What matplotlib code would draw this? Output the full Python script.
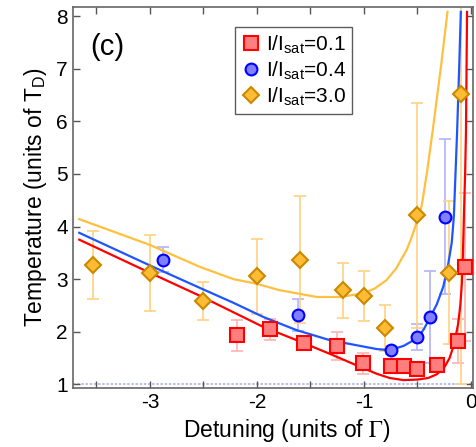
import matplotlib
matplotlib.use("Agg")
import matplotlib.pyplot as plt
from matplotlib.ticker import MultipleLocator

plt.rcParams['font.family'] = ['Liberation Sans', 'DejaVu Sans']
plt.rcParams['mathtext.fontset'] = 'custom'
plt.rcParams['mathtext.rm'] = 'Liberation Sans'
plt.rcParams['mathtext.it'] = 'Liberation Sans'

# measured points: detuning (units of Gamma), temperature (units of T_D)
red_x = [-2.19, -1.88, -1.56, -1.25, -1.01, -0.75, -0.63, -0.50, -0.32, -0.12, -0.055]
red_y = [1.93, 2.05, 1.78, 1.73, 1.40, 1.34, 1.34, 1.29, 1.36, 1.82, 3.23]
red_err = [0.30, 0.20, 0.08, 0.27, 0.20, 0.10, 0.05, 0.05, 0.05, 0.42, 1.40]

blue_x = [-2.88, -1.62, -0.75, -0.50, -0.38, -0.24]
blue_y = [3.37, 2.32, 1.65, 1.90, 2.28, 4.19]
blue_err = [0.24, 0.30, 0.08, 0.24, 0.88, 1.48]

orange_x = [-3.53, -3.0, -2.5, -2.0, -1.6, -1.2, -1.0, -0.8, -0.5, -0.21, -0.09]
orange_y = [3.27, 3.11, 2.58, 3.05, 3.37, 2.79, 2.68, 2.07, 4.21, 3.12, 6.51]
orange_err = [0.64, 0.72, 0.36, 0.72, 1.21, 0.52, 0.47, 0.44, 2.13, 1.36, 5.5]

# theory curves
red_fit_x = [-3.66, -3.0, -2.53, -2.22, -1.94, -1.63, -1.32, -1.01, -0.88, -0.76,
             -0.63, -0.50, -0.40, -0.32, -0.25, -0.20, -0.16, -0.12, -0.10, -0.085,
             -0.075, -0.065, -0.055, -0.047, -0.037]
red_fit_y = [3.75, 3.12, 2.68, 2.37, 2.09, 1.84, 1.58, 1.31, 1.20, 1.12,
             1.08, 1.09, 1.12, 1.19, 1.32, 1.50, 1.75, 2.15, 2.50, 2.93,
             3.50, 4.30, 5.00, 5.79, 8.08]

blue_fit_x = [-3.66, -3.0, -2.53, -2.22, -1.94, -1.63, -1.32, -1.01, -0.88, -0.76,
              -0.63, -0.50, -0.44, -0.38, -0.32, -0.26, -0.22, -0.18, -0.16, -0.13,
              -0.11, -0.095]
blue_fit_y = [3.88, 3.26, 2.83, 2.55, 2.28, 2.03, 1.84, 1.72, 1.67, 1.65,
              1.73, 1.88, 2.05, 2.28, 2.52, 2.85, 3.20, 3.69, 4.20, 5.79,
              7.05, 8.08]

orange_fit_x = [-3.66, -3.0, -2.53, -2.22, -2.0, -1.79, -1.44, -1.22, -1.01, -0.90,
                -0.79, -0.70, -0.60, -0.55, -0.50, -0.46, -0.41, -0.36, -0.28, -0.22]
orange_fit_y = [4.14, 3.65, 3.23, 3.00, 2.91, 2.79, 2.66, 2.66, 2.73, 2.82,
                2.98, 3.20, 3.56, 3.82, 4.13, 4.40, 5.05, 5.79, 7.05, 8.08]

labels = ['I/I$_{\\mathrm{sat}}$=0.1', 'I/I$_{\\mathrm{sat}}$=0.4', 'I/I$_{\\mathrm{sat}}$=3.0']

fig = plt.figure(figsize=(4.76, 4.47), dpi=100)
ax = fig.add_axes([0.153, 0.132, 0.841, 0.852])

# reference line at T = T_D
ax.axhline(1.0, color='#aab4e8', linestyle=(0, (1.5, 1.0)), linewidth=1.2, zorder=1)

series = [
    (red_x, red_y, red_err, red_fit_x, red_fit_y, 's', 9.5, '#ff7f7f', '#ff0000', '#ffb3b3', '#ff0000'),
    (blue_x, blue_y, blue_err, blue_fit_x, blue_fit_y, 'o', 8.5, '#7f7fff', '#0000ff', '#b3b3ff', '#1f55ff'),
    (orange_x, orange_y, orange_err, orange_fit_x, orange_fit_y, 'D', 8.5, '#ffbb33', '#c88a00', '#ffd27f', '#ffbf3f'),
]

handles = []
for (x, y, e, fx, fy, m, ms, fc, ec, errc, linec), lab in zip(series, labels):
    ax.errorbar(x, y, yerr=e, fmt='none', ecolor=errc, elinewidth=1.2,
                capsize=4, capthick=1.2, zorder=2)
    ax.plot(fx, fy, color=linec, linewidth=1.6, zorder=3)
    # trailing quad leaves the empty space the original legend box has on the right
    h, = ax.plot(x, y, m, markersize=ms, markerfacecolor=fc, markeredgecolor=ec,
                 markeredgewidth=1.5, linestyle='none', zorder=4, label=lab + '$\\quad$')
    handles.append(h)

ax.set_xlim(-3.72, 0.02)
ax.set_ylim(0.93, 8.17)
ax.xaxis.set_minor_locator(MultipleLocator(0.5))
ax.yaxis.set_major_locator(MultipleLocator(1))
ax.set_xticks([-3, -2, -1, 0])
ax.set_xticklabels(['-3', '-2', '-1', '0'])

ax.tick_params(axis='both', which='both', direction='in', top=True, right=True,
               labelsize=15, colors='#555555', labelcolor='black')
ax.tick_params(axis='both', which='major', length=5, width=1)
ax.tick_params(axis='x', which='minor', length=5, width=1)
ax.tick_params(axis='y', which='major', right=True, length=2)
ax.tick_params(axis='y', which='major', left=True, length=5)
for s in ax.spines.values():
    s.set_color('#666666')
    s.set_linewidth(1.2)

ax.set_xlabel('Detuning (units of $\\Gamma$)', fontsize=16.5, math_fontfamily='stix', labelpad=4)
ax.xaxis.set_label_coords(0.535, -0.075, transform=ax.transAxes)
ax.xaxis.label.set_va('top')
ax.set_ylabel('Temperature (units of T$_{\\mathrm{D}}$)', fontsize=16.5, labelpad=5)

ax.text(0.085, 0.895, '(c)', transform=ax.transAxes, fontsize=21, ha='center', va='center')

leg = ax.legend(handles=handles, loc='upper left', bbox_to_anchor=(0.404, 0.948),
                fontsize=15, frameon=True, fancybox=False, edgecolor='#333333',
                handletextpad=0.2, borderpad=0.3, labelspacing=0.18,
                handlelength=1.0, borderaxespad=0)
leg.get_frame().set_linewidth(1.0)

fig.savefig('out.png', dpi=100)
